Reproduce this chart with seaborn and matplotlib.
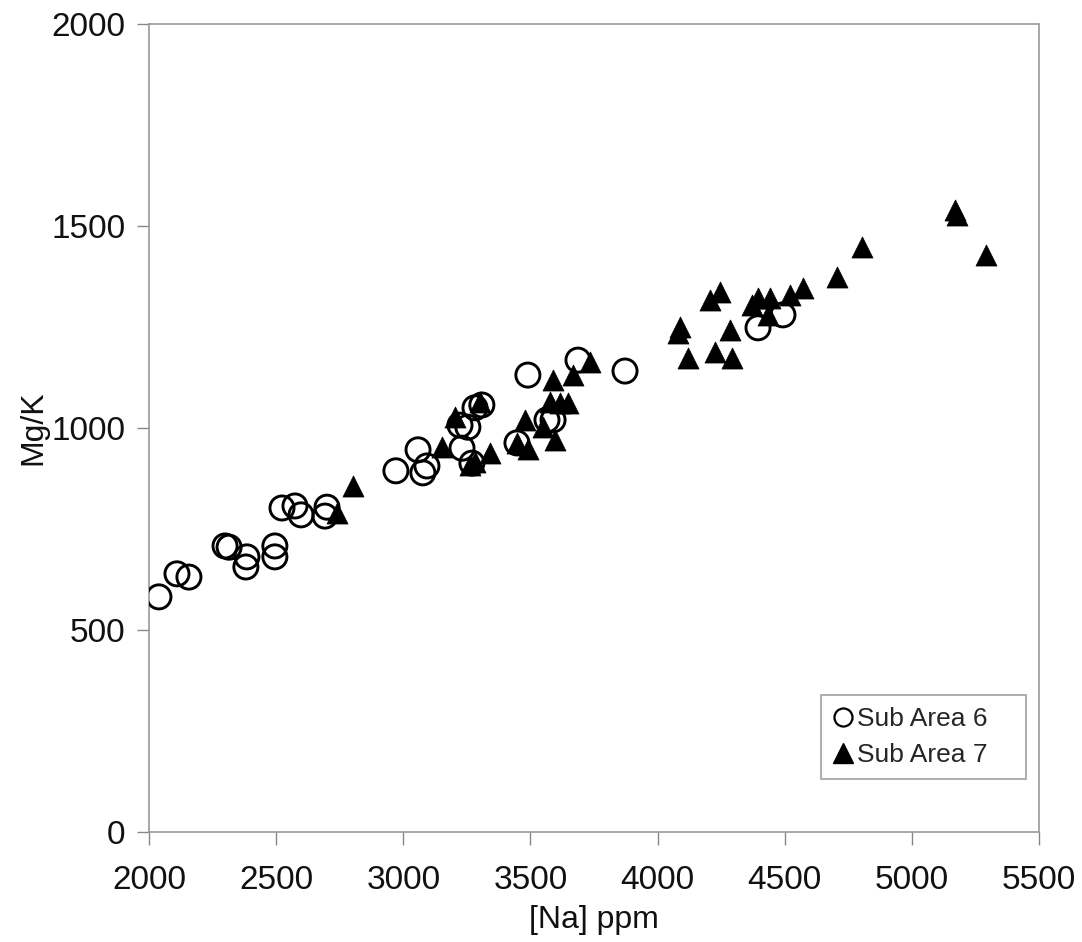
import matplotlib
matplotlib.use("Agg")
import matplotlib.pyplot as plt
import seaborn as sns
import pandas as pd
from matplotlib.lines import Line2D

# Sub Area 6 (open circles)
na_area6 = [2039, 2110, 2157, 2299, 2315, 2385, 2381, 2495, 2495, 2523, 2574, 2598,
            2692, 2700, 2971, 3058, 3077, 3093, 3231, 3223, 3254, 3270, 3282, 3309,
            3447, 3490, 3565, 3589, 3687, 3872, 4395, 4493]
mgk_area6 = [582, 639, 631, 708, 705, 681, 656, 708, 681, 802, 807, 785,
             782, 804, 894, 946, 889, 906, 950, 1007, 1002, 913, 1050, 1057,
             963, 1131, 1020, 1020, 1168, 1141, 1248, 1280]

# Sub Area 7 (filled triangles)
na_area7 = [2739, 2802, 3152, 3203, 3302, 3262, 3282, 3341, 3447, 3490, 3479, 3549,
            3597, 3577, 3616, 3648, 3589, 3667, 3734, 4088, 4080, 4120, 4206, 4245,
            4226, 4285, 4293, 4371, 4395, 4442, 4434, 4521, 4572, 4705, 4804, 5170,
            5177, 5291]
mgk_area7 = [790, 856, 953, 1027, 1064, 908, 916, 938, 963, 948, 1020, 1002,
             970, 1064, 1062, 1062, 1119, 1131, 1163, 1250, 1235, 1173, 1317, 1337,
             1188, 1243, 1173, 1304, 1322, 1322, 1280, 1329, 1347, 1374, 1448, 1540,
             1527, 1428]

x_ticks = [2000, 2500, 3000, 3500, 4000, 4500, 5000, 5500]
y_ticks = [0, 500, 1000, 1500, 2000]

sns.set_theme(style="white")
plt.rcParams['font.family'] = ['Liberation Sans', 'DejaVu Sans']

df6 = pd.DataFrame({"na": na_area6, "mgk": mgk_area6})
df7 = pd.DataFrame({"na": na_area7, "mgk": mgk_area7})

fig = plt.figure(figsize=(10.82, 9.42), dpi=100)
ax = fig.add_axes([149/1082, 1 - 832/942, (1039-149)/1082, (832-24)/942])

sns.scatterplot(data=df6, x="na", y="mgk", ax=ax, marker="o", s=300,
                facecolor="none", edgecolor="black", linewidth=2.1, zorder=3)
sns.scatterplot(data=df7, x="na", y="mgk", ax=ax, marker="^", s=230,
                color="black", edgecolor="black", linewidth=0.5, zorder=3)

ax.set_xlim(2000, 5500)
ax.set_ylim(0, 2000)
ax.set_xticks(x_ticks)
ax.set_yticks(y_ticks)
ax.tick_params(axis="both", direction="out", length=9, width=1, color="#888888",
               labelsize=24, labelcolor="#111111", bottom=True, left=True)
ax.tick_params(axis="x", pad=15)
ax.tick_params(axis="y", pad=8)
for sp in ax.spines.values():
    sp.set_color("#999999")
    sp.set_linewidth(1.2)

ax.set_xlabel("[Na] ppm", fontsize=23, color="#111111", labelpad=6)
ax.set_ylabel("Mg/K", fontsize=23, color="#111111", labelpad=2)

handles = [
    Line2D([], [], linestyle="none", marker="o", markersize=13,
           markerfacecolor="none", markeredgecolor="black", markeredgewidth=1.6),
    Line2D([], [], linestyle="none", marker="^", markersize=15,
           markerfacecolor="black", markeredgecolor="black"),
]
leg = ax.legend(handles, ["Sub Area 6", "Sub Area 7"], loc="lower left",
                bbox_to_anchor=(0.755, 0.0656, 0.23, 0.109), mode="expand",
                frameon=True, fancybox=False, fontsize=19, handlelength=0.8,
                handletextpad=0.1, borderpad=0.45, labelspacing=0.45,
                borderaxespad=0)
leg.get_frame().set_edgecolor("#888888")
leg.get_frame().set_linewidth(1.2)

fig.savefig("out.png", dpi=100)
